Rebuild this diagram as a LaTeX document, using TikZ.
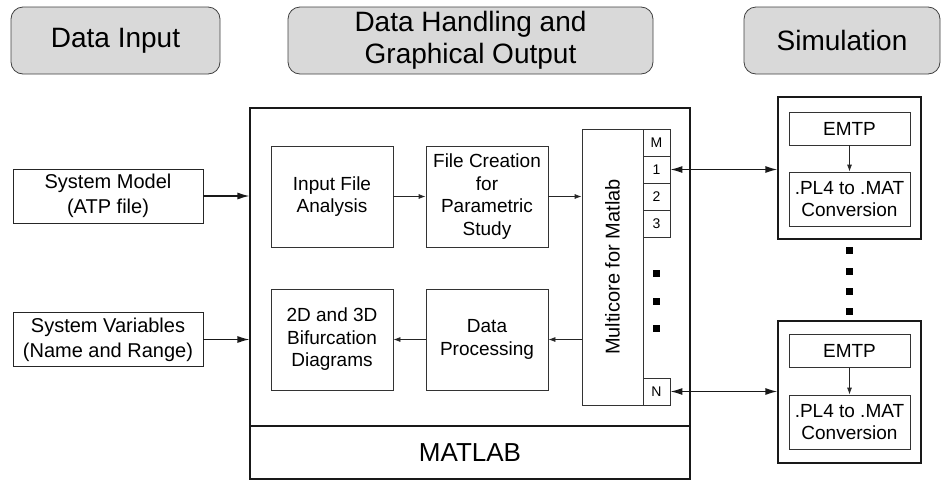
\documentclass[tikz,border=0pt]{standalone}
\usepackage{fontspec}
\setmainfont{Liberation Sans}
\usetikzlibrary{arrows.meta}

\begin{document}
\begin{tikzpicture}[x=1pt,y=-1pt,
  title/.style={draw=black!75, fill=black!15, rounded corners=12pt, line width=0.8pt,
    inner sep=0pt, align=center, minimum height=67pt, font=\fontsize{28}{32}\selectfont},
  inbox/.style={draw=black!85, line width=0.9pt, inner sep=0pt, align=center,
    minimum width=190pt, minimum height=54pt, font=\fontsize{20}{25}\selectfont},
  blk/.style={draw=black!80, line width=0.8pt, inner sep=0pt, align=center,
    minimum width=122pt, minimum height=101pt, font=\fontsize{19}{22.5}\selectfont},
  port/.style={draw=black!80, line width=0.8pt, inner sep=0pt,
    minimum width=27pt, minimum height=27pt, font=\fontsize{14}{16}\selectfont},
  simbox/.style={draw=black!90, line width=1.3pt, inner sep=0pt,
    minimum width=143pt, minimum height=142pt},
  simblk/.style={draw=black!80, line width=0.8pt, inner sep=0pt, align=center,
    minimum width=121pt, font=\fontsize{19}{22.5}\selectfont},
  dot/.style={fill=black, inner sep=0pt, minimum size=7pt},
  thin/.style={line width=0.8pt, draw=black!85, -{Latex[length=7pt,width=5pt]}},
  thick/.style={line width=1.3pt, draw=black!90, -{Latex[length=12pt,width=7pt]}},
  both/.style={line width=1.3pt, draw=black!90, {Latex[length=12pt,width=7pt]}-{Latex[length=12pt,width=7pt]}}]
  \useasboundingbox (0,0) rectangle (943,480);

  % column titles
  \node[title, minimum width=209pt] (tin) at (115.5,40.5) {Data Input};
  \node[title, minimum width=365pt] (tdata) at (470.5,40.5) {Data Handling and\\Graphical Output};
  \node[title, minimum width=196pt] (tsim) at (842,40.5) {Simulation};

  % inputs
  \node[inbox] (sysmod) at (108,196) {System Model\\(ATP file)};
  \node[inbox] (sysvar) at (108,339.5) {System Variables\\(Name and Range)};

  % matlab part
  \node[draw=black!90, line width=1.1pt, minimum width=440pt, minimum height=371pt, inner sep=0pt] (main) at (470,293.5) {};
  \node[draw=black!90, line width=1.1pt, minimum width=440pt, minimum height=53pt, inner sep=0pt,
    font=\fontsize{26}{30}\selectfont] (matlab) at (470,452.5) {MATLAB};
  \node[blk] (ifa) at (332,196.5) {Input File\\Analysis};
  \node[blk] (fcp) at (487,196.5) {File Creation\\for\\Parametric\\Study};
  \node[blk] (bif) at (332,339.5) {2D and 3D\\Bifurcation\\Diagrams};
  \node[blk] (dp) at (487,339.5) {Data\\Processing};
  \node[draw=black!80, line width=0.8pt, inner sep=0pt, minimum width=61pt, minimum height=276pt] (mc) at (612.5,267) {};
  \node[rotate=90, font=\fontsize{20}{24}\selectfont] (mctxt) at (612.5,267) {Multicore for Matlab};
  \node[port] (pm) at (656.5,142.5) {M};
  \node[port] (p1) at (656.5,169.5) {1};
  \node[port] (p2) at (656.5,196.5) {2};
  \node[port] (p3) at (656.5,223.5) {3};
  \node[port] (pn) at (656.5,391.5) {N};
  \foreach \y/\n in {273/a,301/b,328/c}
    \node[dot] (pd\n) at (656.5,\y) {};

  % simulation part
  \node[simbox] (sim1) at (849.5,168) {};
  \node[simblk, minimum height=33pt] (emtp1) at (849.5,128.5) {EMTP};
  \node[simblk, minimum height=54pt] (conv1) at (849.5,199) {.PL4 to .MAT\\Conversion};
  \foreach \y/\n in {250/a,271/b,291/c,311/d}
    \node[dot] (sd\n) at (849,\y) {};
  \node[simbox] (sim2) at (849.5,392) {};
  \node[simblk, minimum height=33pt] (emtp2) at (849.5,351) {EMTP};
  \node[simblk, minimum height=54pt] (conv2) at (849.5,422) {.PL4 to .MAT\\Conversion};

  % connectors
  \draw[thick] (sysmod.east) -- (sysmod.east -| main.west);
  \draw[thick] (sysvar.east) -- (sysvar.east -| main.west);
  \draw[thin] (ifa) -- (fcp);
  \draw[thin] (fcp.east) -- (fcp.east -| mc.west);
  \draw[thin] (dp.east -| mc.west) -- (dp.east);
  \draw[thin] (dp) -- (bif);
  \draw[both] (p1.east) -- (p1.east -| sim1.west);
  \draw[both] (pn.east) -- (pn.east -| sim2.west);
  \draw[thin] (emtp1) -- (conv1);
  \draw[thin] (emtp2) -- (conv2);
\end{tikzpicture}
\end{document}
